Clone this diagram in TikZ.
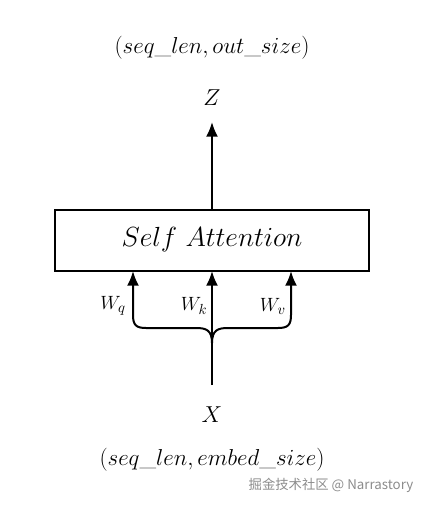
\documentclass[tikz,border=0pt]{standalone}
\usepackage{fontspec}
\usetikzlibrary{arrows.meta}
\newfontfamily\cjkfont{Noto Sans CJK SC}
\begin{document}
\begin{tikzpicture}[x=0.75pt,y=-0.75pt,
  conn/.style={line width=1.5pt,-{Latex[length=11pt,width=9pt]}},
  lbl/.style={inner sep=0pt,font=\fontsize{18}{21}\selectfont},
  wlbl/.style={inner sep=0pt,font=\fontsize{15}{17}\selectfont}]
\useasboundingbox (0,0) rectangle (427,506);
\node[draw,line width=1.5pt,minimum width=314*0.75pt,minimum height=61*0.75pt,inner sep=0pt,font=\fontsize{21}{24}\selectfont] (sa) at (212,240) {$Self\ Attention$};
\node[lbl] (Z) at (212,98) {$Z$};
\node[lbl] (zs) at (212,48) {$(seq\_len, out\_size)$};
\node[lbl] (X) at (212,415) {$X$};
\node[lbl] (xs) at (212,460) {$(seq\_len, embed\_size)$};
\coordinate (ztip) at (212,122);
\draw[conn] (sa.north) -- (ztip);
\coordinate (xin) at (212,385);
\coordinate (j) at (212,343);
\coordinate (tq) at (133,271);
\coordinate (tk) at (212,271);
\coordinate (tv) at (291,271);
\draw[conn] (xin) -- (tk);
\draw[conn] (j) .. controls (212,330) and (206,328) .. (196,328) -- (146,328) .. controls (136,328) and (133,325) .. (133,315) -- (tq);
\draw[conn] (j) .. controls (212,330) and (218,328) .. (228,328) -- (278,328) .. controls (288,328) and (291,325) .. (291,315) -- (tv);
\node[wlbl] (wq) at (113,306) {$W_q$};
\node[wlbl] (wk) at (194,306) {$W_k$};
\node[wlbl] (wv) at (273,306) {$W_v$};
\node[inner sep=0pt,text=black!45,font=\cjkfont\fontsize{10}{12}\selectfont] (wm) at (331,485) {掘金技术社区 @ Narrastory};
\end{tikzpicture}
\end{document}
